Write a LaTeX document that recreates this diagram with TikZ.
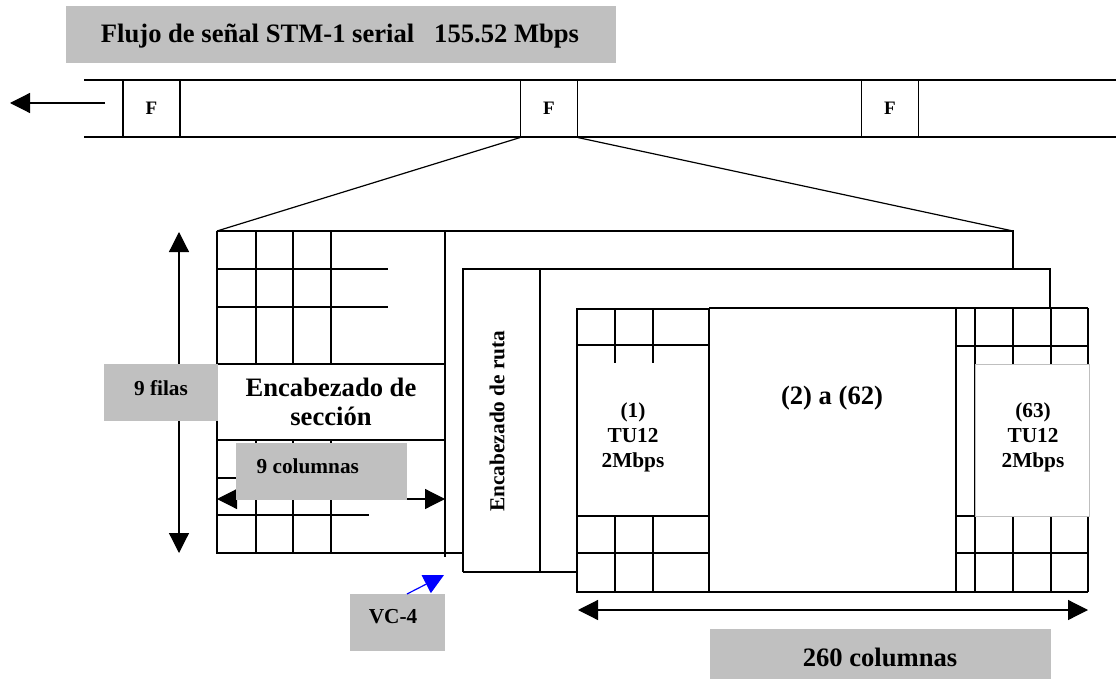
\documentclass[tikz,border=0pt]{standalone}
\usepackage{fontspec}
\setmainfont{Liberation Serif}
\usetikzlibrary{arrows.meta}
\definecolor{boxgray}{RGB}{192,192,192}
\tikzset{
  thin line/.style={line width=1.2pt},
  thick frame/.style={line width=2.8pt},
  fbox/.style={draw, line width=1.2pt, minimum width=57pt, minimum height=57pt, inner sep=0pt, font=\fontsize{19}{21}\selectfont\bfseries},
  big/.style={font=\fontsize{26.6}{29}\selectfont\bfseries, align=center, inner sep=0pt},
  mid/.style={font=\fontsize{21.3}{25}\selectfont\bfseries, align=center, inner sep=0pt},
  grayfill/.style={fill=boxgray},
  tri/.style={-{Triangle[length=20pt,width=20pt]}},
  dtri/.style={{Triangle[length=20pt,width=20pt]}-{Triangle[length=20pt,width=20pt]}}
}
\begin{document}
\begin{tikzpicture}[x=1pt,y=-1pt,thin line]
\useasboundingbox (0,0) rectangle (1116,679);

% title
\fill[grayfill] (66,6) rectangle (616,63);
\node[big] (title) at (340,36) {Flujo de señal STM-1 serial\ \ \ 155.52 Mbps};

% serial strip
\draw (84,80) -- (1116,80);
\draw (84,137) -- (1116,137);
\node[fbox] (f1) at (151.5,108.5) {F};
\node[fbox] (f2) at (549,108.5) {F};
\node[fbox] (f3) at (890,108.5) {F};
\coordinate (outS) at (105,103);
\coordinate (outE) at (10,103);
\draw[tri] (outS) -- (outE);

% zoom lines
\coordinate (fr1TL) at (217,231);
\coordinate (fr1TR) at (1013,231);
\draw (f2.south west) -- (fr1TL);
\draw (f2.south east) -- (fr1TR);

% frame 1
\draw (fr1TL) -- (fr1TR) -- (1013,269);
% frame 2
\draw (463,572) -- (463,269) -- (1050,269) -- (1050,308);
\draw (540,269) -- (540,572);
\draw (463,572) -- (577,572);
% frame 3
\draw (709,308) -- (1088,308);
\draw (709,592) -- (1088,592);
\foreach \x in {956,975,1013,1051,1088} \draw (\x,308) -- (\x,592);
\foreach \y in {346,516,553} \draw (956,\y) -- (1088,\y);
\node[mid, fill=white, draw=black!25, line width=0.6pt, minimum width=114pt, minimum height=152pt] (tu63) at (1032,440) {};
\node[mid] (tu63t) at (1033,437) {(63)\\TU12\\2Mbps};

% TU12 (1)
\foreach \x in {615,653} {\draw (\x,309) -- (\x,363); \draw (\x,516) -- (\x,592);}
\foreach \y in {345,516,553} \draw (577,\y) -- (709,\y);
\draw[thick frame] (577,309) rectangle (709,592);
\node[mid] (tu1) at (633,437) {(1)\\TU12\\2Mbps};
\node[big] (mid62) at (832,398) {(2) a (62)};
\node[mid, rotate=90] (ruta) at (497,421) {Encabezado de ruta};

% section overhead grid
\draw (217,231) -- (217,553) -- (463,553);
\draw (445,231) -- (445,557);
\foreach \x in {256,293,331} {\draw (\x,231) -- (\x,364); \draw (\x,440) -- (\x,553);}
\foreach \y in {269,307} \draw (217,\y) -- (388,\y);
\foreach \y in {478,515} \draw (217,\y) -- (369,\y);
\node[big, draw, fill=white, line width=1.2pt, minimum width=228pt, minimum height=76pt] (sec) at (331,402) {Encabezado de\\sección};

% 9 filas
\coordinate (filT) at (179,232);
\coordinate (filB) at (179,553);
\draw[dtri] (filT) -- (filB);
\fill[grayfill] (104,364) rectangle (218,421);
\node[mid] (filas) at (161,388) {9 filas};

% 9 columnas
\coordinate (colL) at (217,499);
\coordinate (colR) at (445,499);
\draw[dtri] (colL) -- (colR);
\fill[grayfill] (236,443) rectangle (407,500);
\node[mid, anchor=west] (cols) at (256,466) {9 columnas};

% VC-4
\fill[grayfill] (350,594) rectangle (445,651);
\node[mid] (vc4) at (393,617) {VC-4};
\coordinate (vcS) at (407,594);
\coordinate (vcE) at (444,575);
\draw[blue, tri] (vcS) -- (vcE);

% 260 columnas
\coordinate (c260L) at (578,610);
\coordinate (c260R) at (1088,610);
\draw[dtri] (c260L) -- (c260R);
\fill[grayfill] (710,629) rectangle (1051,679);
\node[big] (c260) at (880,657) {260 columnas};
\end{tikzpicture}
\end{document}
